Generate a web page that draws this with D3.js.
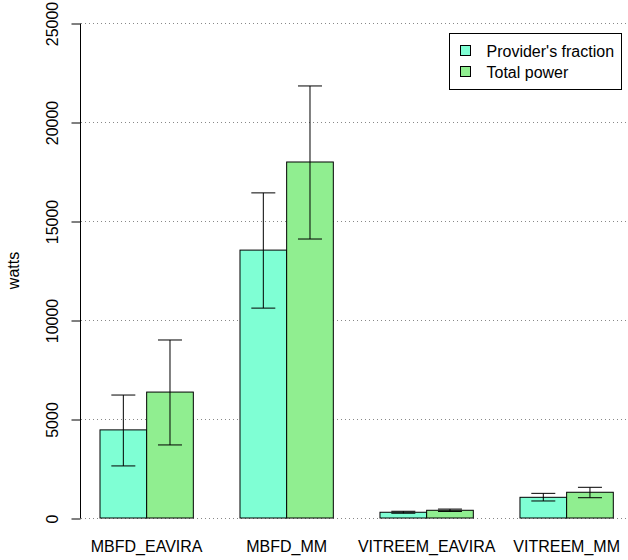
<!DOCTYPE html>
<html>
<head>
<meta charset="utf-8">
<script src="https://cdn.jsdelivr.net/npm/d3@7"></script>
<style>
  body { margin: 0; background: #fff; }
  svg { font-family: "Liberation Sans", Arial, Helvetica, sans-serif; }
</style>
</head>
<body>
<div id="chart"></div>
<script>
// Data
const categories = ["MBFD_EAVIRA", "MBFD_MM", "VITREEM_EAVIRA", "VITREEM_MM"];
const seriesNames = ["Provider's fraction", "Total power"];
const seriesColors = ["#7FFFD4", "#90EE90"];
const providerMean = [4450, 13530, 290, 1045];
const providerLow = [2630, 10600, 240, 860];
const providerHigh = [6210, 16420, 340, 1245];
const totalMean = [6360, 17980, 390, 1300];
const totalLow = [3690, 14090, 330, 1025];
const totalHigh = [8990, 21820, 450, 1550];
const yTicks = [0, 5000, 10000, 15000, 20000, 25000];

const width = 628;
const height = 560;

const series = [
  { mean: providerMean, low: providerLow, high: providerHigh },
  { mean: totalMean, low: totalLow, high: totalHigh }
];

const svg = d3.select("#chart").append("svg")
  .attr("width", width)
  .attr("height", height);

// y: 0 -> 518, 25000 -> 23
const y = d3.scaleLinear().domain([0, 25000]).range([518, 23]);

// groups of two bars separated by a one-bar gap
const x0 = d3.scaleBand()
  .domain(categories)
  .range([100, 613.3])
  .paddingInner(1 / 3)
  .paddingOuter(0);
const x1 = d3.scaleBand()
  .domain(d3.range(seriesNames.length))
  .range([0, x0.bandwidth()]);

// gridlines
svg.append("g")
  .selectAll("line")
  .data(yTicks)
  .join("line")
  .attr("x1", 81).attr("x2", width)
  .attr("y1", d => y(d) + 0.5).attr("y2", d => y(d) + 0.5)
  .attr("stroke", "#888")
  .attr("stroke-dasharray", "1,3");

// y axis
const yAxis = svg.append("g")
  .attr("transform", "translate(80.5,0.5)")
  .call(d3.axisLeft(y).tickValues(yTicks).tickSize(9).tickFormat(d3.format("d")));
yAxis.select(".domain").attr("d", `M0,${y(25000)}V${y(0)}`).attr("stroke", "#000");
yAxis.selectAll(".tick line").attr("stroke", "#000");
yAxis.selectAll(".tick text")
  .attr("font-size", 16)
  .attr("fill", "#000")
  .attr("text-anchor", "middle")
  .attr("transform", "rotate(-90)")
  .attr("x", 0)
  .attr("y", -23)
  .attr("dy", "0");

// bars
const groups = svg.append("g")
  .selectAll("g")
  .data(categories)
  .join("g")
  .attr("transform", d => `translate(${x0(d)},0)`);

groups.each(function(cat, i) {
  const g = d3.select(this);
  series.forEach((s, j) => {
    g.append("rect")
      .attr("x", x1(j))
      .attr("width", x1.bandwidth())
      .attr("y", y(s.mean[i]))
      .attr("height", y(0) - y(s.mean[i]))
      .attr("fill", seriesColors[j])
      .attr("stroke", "#000")
      .attr("stroke-width", 1);
  });
  series.forEach((s, j) => {
    const cx = x1(j) + x1.bandwidth() / 2;
    g.append("line")
      .attr("x1", cx).attr("x2", cx)
      .attr("y1", y(s.low[i])).attr("y2", y(s.high[i]))
      .attr("stroke", "#000");
    [s.low[i], s.high[i]].forEach(v => {
      g.append("line")
        .attr("x1", cx - 12).attr("x2", cx + 12)
        .attr("y1", y(v)).attr("y2", y(v))
        .attr("stroke", "#000");
    });
  });
});

// category labels
svg.append("g")
  .selectAll("text")
  .data(categories)
  .join("text")
  .attr("x", d => x0(d) + x0.bandwidth() / 2)
  .attr("y", 552)
  .attr("text-anchor", "middle")
  .attr("font-size", 16)
  .text(d => d);

// y label
svg.append("text")
  .attr("transform", `translate(19,${y(12500)}) rotate(-90)`)
  .attr("text-anchor", "middle")
  .attr("font-size", 16)
  .text("watts");

// legend
const legend = svg.append("g").attr("transform", "translate(449.5,33.5)");
legend.append("rect")
  .attr("width", 172).attr("height", 56)
  .attr("fill", "#fff").attr("stroke", "#000");
seriesNames.forEach((name, j) => {
  legend.append("rect")
    .attr("x", 11).attr("y", 12 + j * 21)
    .attr("width", 10).attr("height", 10)
    .attr("fill", seriesColors[j]).attr("stroke", "#000");
  legend.append("text")
    .attr("x", 37).attr("y", 23 + j * 21)
    .attr("font-size", 16)
    .text(name);
});
</script>
</body>
</html>
